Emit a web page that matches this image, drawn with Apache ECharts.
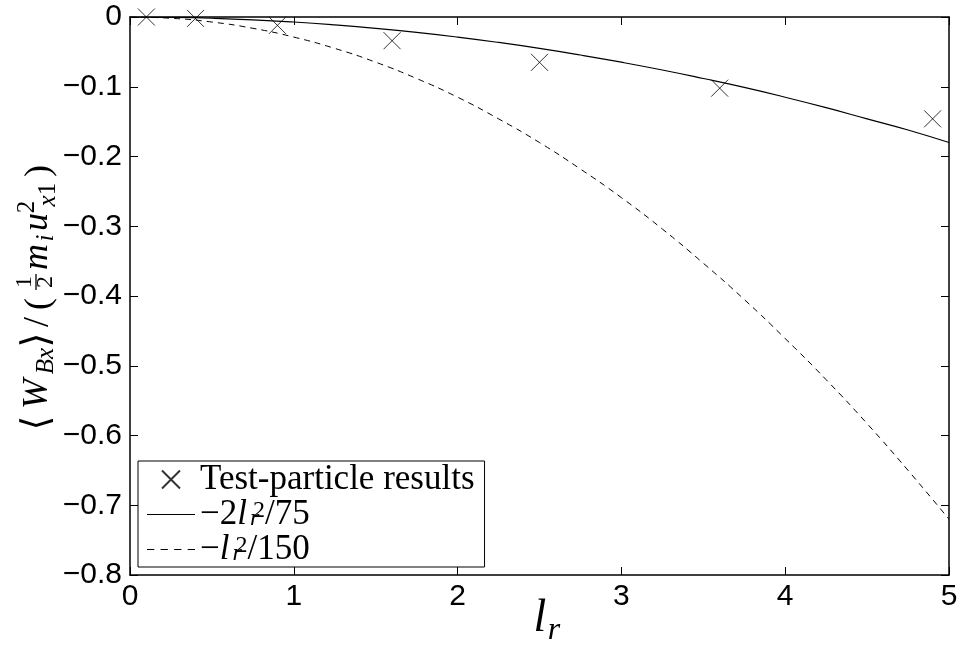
<!DOCTYPE html>
<html>
<head>
<meta charset="utf-8">
<script src="https://cdn.jsdelivr.net/npm/echarts@6/dist/echarts.min.js"></script>
<style>
  html, body { margin: 0; padding: 0; background: #fff; }
  #chart { width: 961px; height: 650px; }
</style>
</head>
<body>
<div id="chart"></div>
<script>
// Axis ticks
const xTicks = [0, 1, 2, 3, 4, 5];
const yTicks = [-0.8, -0.7, -0.6, -0.5, -0.4, -0.3, -0.2, -0.1, 0];

// Test-particle results
const particleX = [0.1, 0.4, 0.9, 1.6, 2.5, 3.6, 4.9];
const particleY = [0, -0.002, -0.012, -0.034, -0.065, -0.102, -0.146];

// Model curves sampled along l_r
const curveX = [0, 0.25, 0.5, 0.75, 1, 1.25, 1.5, 1.75, 2, 2.25, 2.5,
                2.75, 3, 3.25, 3.5, 3.75, 4, 4.25, 4.5, 4.75, 5];
const solidY = [0, -0.0005, -0.0018, -0.004, -0.0072, -0.0113, -0.0162, -0.022, -0.0288, -0.0365, -0.045,
                -0.0545, -0.0648, -0.076, -0.0882, -0.101, -0.115, -0.13, -0.146, -0.162, -0.18];
const dashedY = [0, -0.0018, -0.0072, -0.0162, -0.0288, -0.045, -0.0648, -0.0882, -0.115, -0.146, -0.18,
                 -0.218, -0.259, -0.304, -0.353, -0.405, -0.461, -0.52, -0.583, -0.65, -0.72];

const seriesNames = ['Test-particle results', 'solid model', 'dashed model'];
const legendRich = {
  'Test-particle results': '{t|Test-particle results}',
  'solid model': '{t|\u22122}{it|l}{sub|r}{sup|2}{t|/75}',
  'dashed model': '{t|\u2212}{it|l}{sub|r}{sup|2}{t|/150}'
};

const pair = (xs, ys) => xs.map((x, i) => [x, ys[i]]);
const crossPath = 'path://M0,0L10,10M10,0L0,10';
// Legend key strokes drawn as thin filled bars
const solidKey = 'path://M0,0H48V1.2H0Z';
const dashedKey = 'path://M0,0H7V1H0Z M13,0H20V1H13Z M26,0H33V1H26Z M39,0H46V1H39Z';
const SERIF = '"Liberation Serif", "DejaVu Serif", serif';
const SANS = '"Liberation Sans", Arial, sans-serif';

const chart = echarts.init(document.getElementById('chart'), null, { renderer: 'canvas' });

function fmtY(v) {
  const s = (Math.round(v * 10) / 10).toFixed(1);
  if (Math.abs(v) < 1e-9) return '0';
  return s.replace('-', '\u2212');
}

// Text piece placed by its centre and baseline
function t(str, cx, base, size, italic, fam) {
  return {
    type: 'text',
    x: cx, y: base - 0.3 * size,
    style: {
      text: str,
      font: (italic ? 'italic ' : '') + size + 'px ' + (fam || SERIF),
      fill: '#000',
      align: 'center',
      verticalAlign: 'middle'
    }
  };
}

// Rotated y-axis title (baseline at local y = 0)
const yTitle = {
  type: 'group',
  x: 48, y: 433,
  rotation: Math.PI / 2,
  children: [
    t('\u27E8', 10, 2, 38, false, '"DejaVu Serif", "DejaVu Sans", serif'),
    t('W', 39, 0, 36, true),
    t('Bx', 72, 6, 25, true),
    t('\u27E9', 93, 2, 38, false, '"DejaVu Serif", "DejaVu Sans", serif'),
    t('/', 111, 1, 36, false),
    t('(', 129, 2, 36, false),
    t('1', 151, -16, 24, false),
    { type: 'line', shape: { x1: 143, y1: -12, x2: 159, y2: -12 }, style: { stroke: '#000', lineWidth: 1.3 } },
    t('2', 151, 5, 24, false),
    t('m', 176, 0, 36, true),
    t('i', 195, 6, 25, true),
    t('u', 211, 0, 36, true),
    t('2', 226, -13, 25, false),
    t('x', 232, 8, 25, true),
    t('1', 244, 8, 25, false),
    t(')', 262, 2, 36, false)
  ]
};

// x-axis title
const xTitle = {
  type: 'group',
  x: 0, y: 0,
  children: [
    t('l', 540, 633, 46, true),
    t('r', 554, 640, 32, true)
  ]
};

const option = {
  animation: false,
  backgroundColor: '#fff',
  grid: { left: 130, right: 12, top: 17, bottom: 75, containLabel: false },
  xAxis: [
    {
      type: 'value', position: 'bottom',
      min: xTicks[0], max: xTicks[xTicks.length - 1], interval: 1,
      axisLine: { show: true, onZero: false, lineStyle: { color: '#000', width: 1.5 } },
      axisTick: { show: true, inside: true, length: 8, lineStyle: { color: '#000', width: 1 } },
      axisLabel: { show: true, margin: 7, fontSize: 30, fontFamily: SANS, color: '#000' },
      splitLine: { show: false }
    },
    {
      type: 'value', position: 'top',
      min: xTicks[0], max: xTicks[xTicks.length - 1], interval: 1,
      axisLine: { show: true, onZero: false, lineStyle: { color: '#000', width: 1.5 } },
      axisTick: { show: true, inside: true, length: 8, lineStyle: { color: '#000', width: 1 } },
      axisLabel: { show: false },
      splitLine: { show: false }
    }
  ],
  yAxis: [
    {
      type: 'value', position: 'left',
      min: yTicks[0], max: yTicks[yTicks.length - 1], interval: 0.1,
      axisLine: { show: true, onZero: false, lineStyle: { color: '#000', width: 1.5 } },
      axisTick: { show: true, inside: true, length: 8, lineStyle: { color: '#000', width: 1 } },
      axisLabel: { show: true, margin: 8, fontSize: 30, fontFamily: SANS, color: '#000', formatter: fmtY },
      splitLine: { show: false }
    },
    {
      type: 'value', position: 'right',
      min: yTicks[0], max: yTicks[yTicks.length - 1], interval: 0.1,
      axisLine: { show: true, onZero: false, lineStyle: { color: '#000', width: 1.5 } },
      axisTick: { show: true, inside: true, length: 8, lineStyle: { color: '#000', width: 1 } },
      axisLabel: { show: false },
      splitLine: { show: false }
    }
  ],
  legend: {
    orient: 'vertical',
    left: 138, top: 461,
    itemWidth: 48, itemHeight: 18, itemGap: 0,
    padding: [1, 10, 0, 9],
    backgroundColor: '#fff',
    borderColor: '#000', borderWidth: 1,
    selectedMode: false,
    data: [
      { name: seriesNames[0], icon: crossPath },
      { name: seriesNames[1], icon: solidKey, itemStyle: { color: '#000', borderWidth: 0 } },
      { name: seriesNames[2], icon: dashedKey, itemStyle: { color: '#000', borderWidth: 0 } }
    ],
    formatter: (name) => legendRich[name],
    textStyle: {
      fontFamily: SERIF, fontSize: 35, color: '#000', lineHeight: 32,
      rich: {
        t: { fontFamily: SERIF, fontSize: 35, color: '#000', lineHeight: 32 },
        it: { fontFamily: SERIF, fontStyle: 'italic', fontSize: 35, color: '#000', lineHeight: 32 },
        sub: { fontFamily: SERIF, fontStyle: 'italic', fontSize: 24, color: '#000', lineHeight: 16,
               verticalAlign: 'bottom', width: 1, padding: [0, 0, 0, 3] },
        sup: { fontFamily: SERIF, fontSize: 24, color: '#000', lineHeight: 16, verticalAlign: 'top',
               padding: [0, 0, 0, 2] }
      }
    }
  },
  graphic: [yTitle, xTitle],
  series: [
    {
      name: seriesNames[0],
      type: 'scatter',
      data: pair(particleX, particleY),
      symbol: crossPath,
      symbolSize: 17,
      itemStyle: { color: '#000', borderColor: '#000', borderWidth: 1 },
      z: 5
    },
    {
      name: seriesNames[1],
      type: 'line',
      data: pair(curveX, solidY),
      smooth: true,
      showSymbol: false,
      symbol: 'none',
      lineStyle: { color: '#000', width: 1.2, type: 'solid' },
      itemStyle: { color: '#000' },
      z: 3
    },
    {
      name: seriesNames[2],
      type: 'line',
      data: pair(curveX, dashedY),
      smooth: true,
      showSymbol: false,
      symbol: 'none',
      lineStyle: { color: '#000', width: 1, type: [6, 5] },
      itemStyle: { color: '#000' },
      z: 3
    }
  ]
};

chart.setOption(option);
</script>
</body>
</html>
